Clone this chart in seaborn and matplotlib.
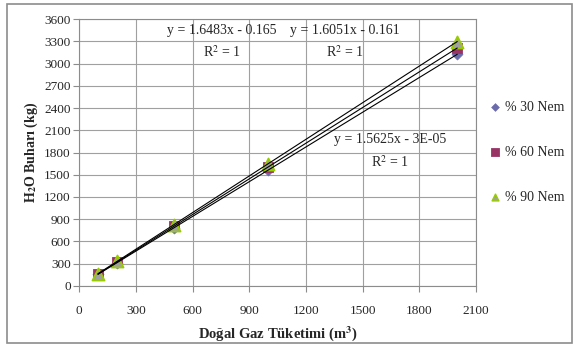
import matplotlib
matplotlib.use("Agg")
import matplotlib.pyplot as plt
import seaborn as sns
import pandas as pd
import numpy as np
from matplotlib.patches import Rectangle

# data
gas = [100, 200, 500, 1000, 2000]
nem30 = [156, 313, 781, 1563, 3125]
nem60 = [160, 321, 802, 1605, 3210]
nem90 = [165, 330, 824, 1648, 3297]
labels = ['% 30 Nem', '% 60 Nem', '% 90 Nem']
equations = ['y = 1.5625x - 3E-05', 'y = 1.6051x - 0.161', 'y = 1.6483x - 0.165']
eq_pos = [(1645, 1969), (1407, 3452), (753, 3452)]
xticks = list(range(0, 2101, 300))
yticks = list(range(0, 3601, 300))

sns.set_style('white')
plt.rcParams['font.family'] = ['Liberation Serif', 'DejaVu Serif']
plt.rcParams['mathtext.fontset'] = 'stix'

df = pd.DataFrame({'x': gas * 3, 'y': nem30 + nem60 + nem90,
                   'seri': [labels[0]] * 5 + [labels[1]] * 5 + [labels[2]] * 5})

fig = plt.figure(figsize=(5.73, 3.47), dpi=100)
ax = fig.add_axes([0.138, 0.176, 0.693, 0.769])

styles = {labels[0]: dict(marker='D', color='#6b6bac', edgecolor='#6b6bac', s=32),
          labels[1]: dict(marker='s', color='#993366', edgecolor='#993366', s=55),
          labels[2]: dict(marker='^', color='#a0a0a0', edgecolor='#99cc00', s=75, linewidth=1.3)}
for lab in labels:
    sub = df[df['seri'] == lab]
    sns.scatterplot(data=sub, x='x', y='y', ax=ax, label=lab, zorder=3, **styles[lab])

# linear trend lines
for lab in labels:
    sub = df[df['seri'] == lab]
    k, b = np.polyfit(sub['x'], sub['y'], 1)
    xs = np.array([sub['x'].min(), sub['x'].max()])
    ax.plot(xs, k * xs + b, color='black', lw=0.8, zorder=4)

for eq, (ex, ey) in zip(equations, eq_pos):
    ax.text(ex, ey, eq, ha='center', va='center', fontsize=10)
    ax.text(ex, ey - 297, 'R$^2$ = 1', ha='center', va='center', fontsize=10)

ax.set_xlim(0, 2100)
ax.set_ylim(0, 3600)
ax.set_xticks(xticks)
ax.set_yticks(yticks)
ax.grid(True, color='#a0a0a0', lw=0.8)
for sp in ax.spines.values():
    sp.set_color('#8c8c8c')
    sp.set_linewidth(0.8)
ax.tick_params(axis='both', direction='out', length=4, width=0.8, color='#8c8c8c',
               labelsize=9.5, pad=2, bottom=True, left=True)
ax.tick_params(axis='x', pad=10)
ax.set_xlabel('Doğal Gaz Tüketimi (m$^\\mathbf{3}$)', fontsize=10.5, fontweight='bold', labelpad=5)
ax.set_ylabel('H$_\\mathbf{2}$O Buharı (kg)', fontsize=10, fontweight='bold', labelpad=3)

leg = ax.legend(loc='center left', bbox_to_anchor=(1.02, 0.5), frameon=False, fontsize=10,
                labelspacing=2.3, handlelength=0.8, handletextpad=0.3, borderaxespad=0,
                markerscale=0.7)
# smaller triangle in the legend
tri = leg.legend_handles[2]
tri.set_sizes([24])
tri.set_linewidth(1.0)

fig.patches.append(Rectangle((7 / 573, 4 / 347), 565 / 573, 339 / 347, transform=fig.transFigure,
                             fill=False, edgecolor='#8c8c8c', lw=1.2))

fig.savefig('out.png', dpi=100)
